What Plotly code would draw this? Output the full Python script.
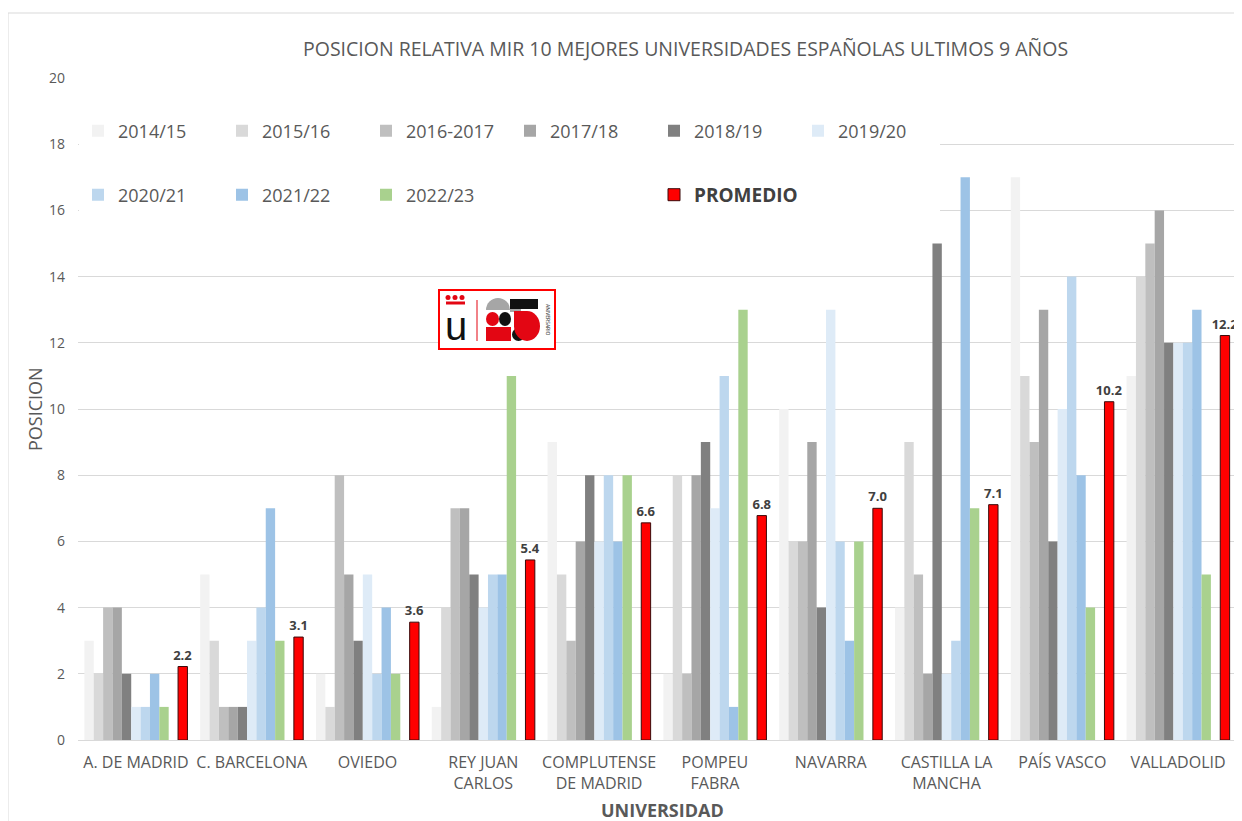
import plotly.graph_objects as go

# ---------------- data ----------------
universidades = ["A. DE MADRID", "C. BARCELONA", "OVIEDO", "REY JUAN<br>CARLOS",
                 "COMPLUTENSE<br>DE MADRID", "POMPEU<br>FABRA", "NAVARRA",
                 "CASTILLA LA<br>MANCHA", "PAÍS VASCO", "VALLADOLID"]
cursos = ["2014/15", "2015/16", "2016-2017", "2017/18", "2018/19",
          "2019/20", "2020/21", "2021/22", "2022/23"]
v_2014_15 = [3, 5, 2, 1, 9, 2, 10, 4, 17, 11]
v_2015_16 = [2, 3, 1, 4, 5, 8, 6, 9, 11, 14]
v_2016_17 = [4, 1, 8, 7, 3, 2, 6, 5, 9, 15]
v_2017_18 = [4, 1, 5, 7, 6, 8, 9, 2, 13, 16]
v_2018_19 = [2, 1, 3, 5, 8, 9, 4, 15, 6, 12]
v_2019_20 = [1, 3, 5, 4, 6, 7, 13, 2, 10, 12]
v_2020_21 = [1, 4, 2, 5, 8, 11, 6, 3, 14, 12]
v_2021_22 = [2, 7, 4, 5, 6, 1, 3, 17, 8, 13]
v_2022_23 = [1, 3, 2, 11, 8, 13, 6, 7, 4, 5]
promedio = [2.22, 3.11, 3.56, 5.44, 6.56, 6.78, 7.00, 7.11, 10.22, 12.22]
series = [v_2014_15, v_2015_16, v_2016_17, v_2017_18, v_2018_19,
          v_2019_20, v_2020_21, v_2021_22, v_2022_23]
vacio = [0] * len(universidades)

colores = ["#F2F2F2", "#D9D9D9", "#BFBFBF", "#A6A6A6", "#808080",
           "#DEEBF7", "#BDD7EE", "#9DC3E6", "#A9D18E"]

# ---------------- geometry helpers ----------------
# the page body has an 8px margin, so the figure is drawn 8px in from the corner
OFF = 8
WIDTH, HEIGHT = 1242 - OFF, 821 - OFF
# plot area in screen pixels
L, R, T, B = 78, 1236, 78, 740
PW, PH = R - L, B - T


def px(x):
    return (x - L) / PW


def py(y):
    return (B - y) / PH


FONT = "Open Sans"
GRAY = "#595959"

fig = go.Figure()

for i, (name, vals, col) in enumerate(zip(cursos, series, colores)):
    fig.add_trace(go.Bar(
        x=universidades, y=vals, name=name, marker_color=col,
        marker_line_width=0, legend="legend" if i < 6 else "legend2",
    ))

# empty slot series (as in the original chart)
fig.add_trace(go.Bar(
    x=universidades, y=vacio, name=" ", marker_color="rgba(0,0,0,0)",
    marker_line_width=0, legend="legend2", hoverinfo="skip",
))

fig.add_trace(go.Bar(
    x=universidades, y=promedio,
    name='<span style="font-size:19px;color:#404040"><b>PROMEDIO</b></span>',
    marker=dict(color="#FF0000", line=dict(color="#3a0a0a", width=1)),
    legend="legend2",
    texttemplate="<b>%{y:.1f}</b>", textposition="outside",
    constraintext="none",
    textfont=dict(family=FONT, size=13, color="#404040"),
    cliponaxis=False,
))

shapes = []
# outer chart border
shapes.append(dict(type="rect", xref="paper", yref="paper",
                   x0=px(8), x1=px(1300), y0=py(13), y1=py(900),
                   line=dict(color="#D9D9D9", width=1), fillcolor="rgba(0,0,0,0)",
                   layer="below"))
# white area behind legend (hides gridlines as in original)
shapes.append(dict(type="rect", xref="paper", yref="paper",
                   x0=px(79), x1=px(940), y0=py(100), y1=py(226),
                   line=dict(width=0), fillcolor="white", layer="above"))


# ---- logo (approximation) ----
def rect(x0, y0, x1, y1, fill, line=None, lw=0):
    shapes.append(dict(type="rect", xref="paper", yref="paper",
                       x0=px(x0), x1=px(x1), y0=py(y1), y1=py(y0),
                       fillcolor=fill, line=dict(color=line or fill, width=lw),
                       layer="above"))


def circ(x0, y0, x1, y1, fill):
    shapes.append(dict(type="circle", xref="paper", yref="paper",
                       x0=px(x0), x1=px(x1), y0=py(y1), y1=py(y0),
                       fillcolor=fill, line=dict(width=0), layer="above"))


rect(439, 290, 555, 349, "white", "#FF0000", 2)
# crown
for cx in (448, 455, 462):
    circ(cx - 2.5, 295, cx + 2.5, 300, "#E30613")
rect(446, 301.5, 465, 304.5, "#E30613")
# vertical separator
rect(476.5, 300, 477.5, 341, "#E30613")
# "25" graphic
circ(486, 298, 510, 322, "#A6A6A6")
rect(486, 310, 510, 322, "white")
rect(510, 299, 538, 309, "#111111")
rect(510, 309, 521, 312, "#A6A6A6")
circ(486, 312, 499, 326, "#E30613")
circ(499, 312, 511, 326, "#111111")
rect(486, 327, 511, 341, "#E30613")
circ(512, 328, 525, 341, "#111111")
circ(514, 311, 540, 341, "#E30613")
rect(514, 311, 527, 327, "#E30613")

annotations = [
    dict(text="POSICION RELATIVA MIR 10 MEJORES UNIVERSIDADES ESPAÑOLAS ULTIMOS 9 AÑOS",
         xref="paper", yref="paper", x=px(685), y=py(48), xanchor="center",
         yanchor="middle", showarrow=False,
         font=dict(family=FONT, size=19.5, color=GRAY)),
    dict(text="POSICION", textangle=-90, xref="paper", yref="paper",
         x=px(35), y=py(409), xanchor="center", yanchor="middle", showarrow=False,
         font=dict(family=FONT, size=18, color=GRAY)),
    dict(text="<b>UNIVERSIDAD</b>", xref="paper", yref="paper",
         x=px(662), y=py(810), xanchor="center", yanchor="middle", showarrow=False,
         font=dict(family=FONT, size=18, color=GRAY)),
    dict(text="u", xref="paper", yref="paper", x=px(456), y=py(326),
         xanchor="center", yanchor="middle", showarrow=False,
         font=dict(family="Liberation Sans", size=40, color="#111111")),
    dict(text="ANIVERSARIO", textangle=90, xref="paper", yref="paper",
         x=px(548), y=py(320), xanchor="center", yanchor="middle", showarrow=False,
         font=dict(family=FONT, size=5, color="#111111")),
]

legend_common = dict(
    orientation="h", xanchor="left", yanchor="middle",
    bgcolor="rgba(0,0,0,0)", borderwidth=0,
    entrywidth=99, entrywidthmode="pixels", itemwidth=30,
    font=dict(family=FONT, size=18, color=GRAY),
    traceorder="normal",
)

fig.update_layout(
    width=WIDTH, height=HEIGHT,
    margin=dict(l=L - OFF, r=WIDTH - (R - OFF), t=T - OFF, b=HEIGHT - (B - OFF),
                autoexpand=False),
    paper_bgcolor="white", plot_bgcolor="white",
    barmode="group", bargap=0.11, bargroupgap=0,
    font=dict(family=FONT, color=GRAY),
    legend=dict(x=0, y=py(131), **legend_common),
    legend2=dict(x=0, y=py(195), **legend_common),
    shapes=shapes, annotations=annotations,
    showlegend=True,
)
fig.update_yaxes(range=[0, 20], tickvals=list(range(0, 21, 2)),
                 showgrid=True, gridcolor="#D9D9D9", gridwidth=1,
                 zeroline=False, showline=False, ticks="",
                 ticklabelstandoff=12,
                 tickfont=dict(family=FONT, size=14, color=GRAY))
fig.update_xaxes(showline=True, linecolor="#D9D9D9", linewidth=1, ticks="",
                 ticklabelstandoff=8,
                 tickfont=dict(family=FONT, size=16, color=GRAY))

fig.write_html("out.html")
